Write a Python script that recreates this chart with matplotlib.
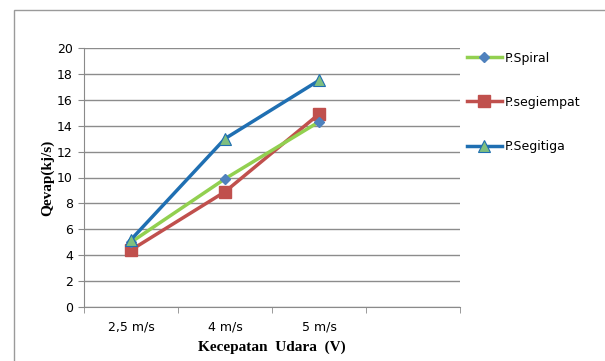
import matplotlib.pyplot as plt
from matplotlib.patches import Rectangle

# data
categories = ["2,5 m/s", "4 m/s", "5 m/s", ""]
spiral = [5.0, 9.9, 14.3]
segiempat = [4.4, 8.9, 14.9]
segitiga = [5.2, 13.0, 17.5]
y_ticks = list(range(0, 21, 2))

fig = plt.figure(figsize=(6.05, 3.61), dpi=100)
fig.patch.set_facecolor("white")

# outer chart frame
fig.patches.append(Rectangle((14 / 605, -0.1), 1.2, 1.0 - 10 / 361 + 0.1,
                             transform=fig.transFigure, fill=False,
                             edgecolor="#9a9a9a", linewidth=1.0))

ax = fig.add_axes([84 / 605, 1 - 307 / 361, (460 - 84) / 605, (307 - 48) / 361])

x = [i + 0.5 for i in range(len(spiral))]

ax.plot(x, spiral, color="#92D050", linewidth=2.5, marker="D",
        markersize=5, markerfacecolor="#4F81BD", markeredgecolor="#4F81BD",
        label="P.Spiral", zorder=4)
ax.plot(x, segiempat, color="#C0504D", linewidth=2.5, marker="s",
        markersize=8, markerfacecolor="#C0504D", markeredgecolor="#C0504D",
        label="P.segiempat", zorder=3)
ax.plot(x, segitiga, color="#1F6FB2", linewidth=2.5, marker="^",
        markersize=9, markerfacecolor="#7FBF7F", markeredgecolor="#1F6FB2",
        markeredgewidth=0.8, label="P.Segitiga", zorder=5)

ax.set_xlim(0, len(categories))
ax.set_ylim(0, 20)
ax.set_yticks(y_ticks)
ax.set_xticks([i + 0.5 for i in range(len(categories))])
ax.set_xticklabels(categories)
ax.set_xticks(range(len(categories) + 1), minor=True)
ax.tick_params(axis="x", which="major", length=0, pad=10, labelsize=9)
ax.tick_params(axis="x", which="minor", length=4, color="#8a8a8a", direction="out")
ax.tick_params(axis="y", length=4, color="#8a8a8a", labelsize=9, pad=4)

ax.grid(axis="y", color="#8c8c8c", linewidth=1.0)
ax.set_axisbelow(True)
for s in ["top", "right"]:
    ax.spines[s].set_visible(False)
for s in ["left", "bottom"]:
    ax.spines[s].set_color("#8a8a8a")

ax.set_ylabel("Qevap(kj/s)", fontfamily="Liberation Serif", fontweight="bold",
              fontsize=11, labelpad=2)
ax.set_xlabel("Kecepatan  Udara  (V)", fontfamily="Liberation Serif",
              fontweight="bold", fontsize=11, labelpad=5)

ax.legend(loc="upper left", bbox_to_anchor=(0.995, 1.02), frameon=False,
          fontsize=9, labelspacing=2.5, handlelength=2.8, handletextpad=0.2,
          borderaxespad=0.3)

fig.savefig("out.png", dpi=100)
